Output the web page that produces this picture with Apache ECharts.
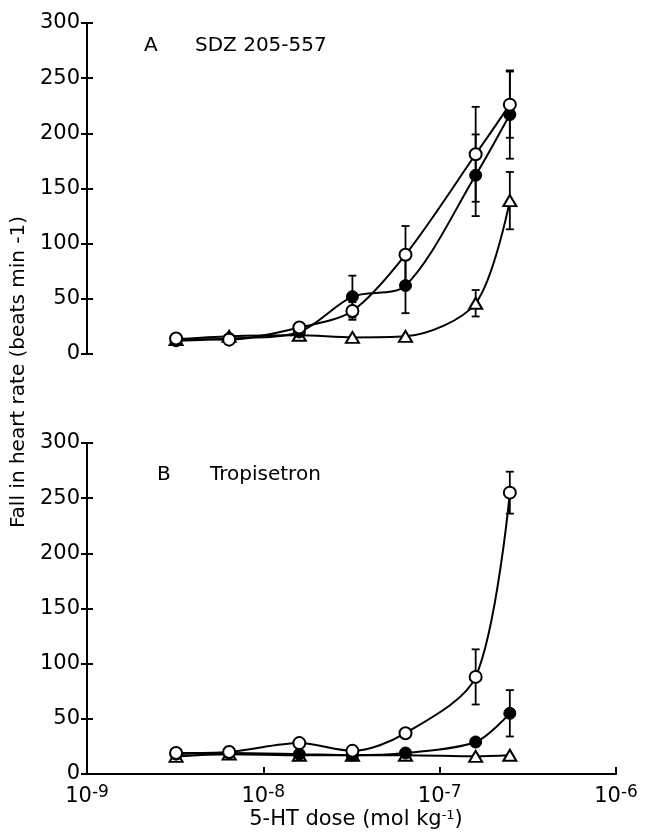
<!DOCTYPE html>
<html><head><meta charset="utf-8">
<script src="https://cdn.jsdelivr.net/npm/echarts@6/dist/echarts.min.js"></script>
<style>html,body{margin:0;padding:0;background:#fff}#c{width:645px;height:833px}</style>
</head><body><div id="c"></div>
<script>
const doses = [3.2e-9, 6.4e-9, 1.6e-8, 3.2e-8, 6.4e-8, 1.6e-7, 2.5e-7];
const yTicks = [0, 50, 100, 150, 200, 250, 300];
// Panel A: SDZ 205-557
const openA = [14, 13, 24, 39, 90, 181, 226];
const filledA = [12, 14, 20, 52, 62, 162, 217];
const triA = [13, 16, 17, 15, 16, 46, 139];
const openAErr = [0, 0, 4, 8, 26, 43, 30];
const filledAErr = [0, 0, 0, 19, 25, 37, 40];
const triAErr = [0, 0, 0, 0, 0, 12, 26];
// Panel B: Tropisetron
const openB = [19, 20, 28, 21, 37, 88, 255];
const filledB = [18, 19, 18, 17, 19, 29, 55];
const triB = [16, 18, 17, 17, 17, 16, 17];
const openBErr = [0, 0, 0, 0, 0, 25, 19];
const filledBErr = [0, 0, 0, 0, 0, 0, 21];
const triBErr = [0, 0, 0, 0, 0, 0, 0];

const FONT = 'DejaVu Sans';
const chart = echarts.init(document.getElementById('c'));

function pts(vals){ return doses.map((d,i)=>[d, vals[i]]); }
function errPts(vals, errs){
  const out=[];
  doses.forEach((d,i)=>{ if(errs[i]>0) out.push([d, vals[i]-errs[i], vals[i]+errs[i]]); });
  return out;
}
function lineSeries(vals, g, kind){
  const base = {type:'line', xAxisIndex:g, yAxisIndex:g*2, data:pts(vals), smooth:0.3,
    symbolSize:12, lineStyle:{color:'#000', width:2}, z:3, animation:false};
  if(kind==='open'){ base.symbol='circle'; base.itemStyle={color:'#fff', borderColor:'#000', borderWidth:2}; }
  if(kind==='filled'){ base.symbol='circle'; base.itemStyle={color:'#000', borderColor:'#000', borderWidth:1}; }
  if(kind==='tri'){ base.symbol='triangle'; base.symbolSize=[13,11]; base.itemStyle={color:'#fff', borderColor:'#000', borderWidth:2}; }
  return base;
}
function errSeries(vals, errs, g){
  return {type:'custom', xAxisIndex:g, yAxisIndex:g*2, data:errPts(vals, errs), z:2, animation:false,
    renderItem:function(params, api){
      const lo = api.coord([api.value(0), api.value(1)]);
      const hi = api.coord([api.value(0), api.value(2)]);
      const w = 4;
      const st = {stroke:'#000', lineWidth:1.8};
      return {type:'group', children:[
        {type:'line', shape:{x1:lo[0], y1:lo[1], x2:hi[0], y2:hi[1]}, style:st},
        {type:'line', shape:{x1:lo[0]-w, y1:lo[1], x2:lo[0]+w, y2:lo[1]}, style:st},
        {type:'line', shape:{x1:hi[0]-w, y1:hi[1], x2:hi[0]+w, y2:hi[1]}, style:st}
      ]};
    }};
}
function xAxisDef(g, show){
  return {gridIndex:g, type:'log', logBase:10, min:1e-9, max:1e-6,
    axisLine:{show:show, lineStyle:{color:'#000', width:2}},
    axisTick:{show:show, inside:true, length:7, lineStyle:{color:'#000', width:2}},
    splitLine:{show:false}, minorTick:{show:false},
    axisLabel:{show:show, margin:10, color:'#000',
      formatter:function(v){ const e=Math.round(Math.log10(v)); return '{b|10}{s|'+e+'}'; },
      rich:{b:{fontFamily:FONT, fontSize:21, color:'#000'}, s:{fontFamily:FONT, fontSize:17, color:'#000', verticalAlign:'bottom', padding:[0,0,9,0]}}}
  };
}
function yAxisDefs(g){
  return [
    {gridIndex:g, type:'value', min:0, max:300, interval:50,
      axisLine:{show:true, lineStyle:{color:'#000', width:2}},
      axisTick:{show:true, length:6, lineStyle:{color:'#000', width:2}},
      splitLine:{show:false},
      axisLabel:{color:'#000', fontFamily:FONT, fontSize:21, margin:7}},
    {gridIndex:g, type:'value', min:0, max:300, interval:50, position:'left',
      axisLine:{show:false}, axisTick:{show:true, inside:true, length:6, lineStyle:{color:'#000', width:2}},
      splitLine:{show:false}, axisLabel:{show:false}}
  ];
}

const option = {
  backgroundColor:'#fff',
  animation:false,
  grid:[{left:87, right:29, top:23, height:331}, {left:87, right:29, top:443, height:331}],
  xAxis:[xAxisDef(0,false), xAxisDef(1,true)],
  yAxis:[...yAxisDefs(0), ...yAxisDefs(1)],
  graphic:[
    {type:'text', left:144, top:36, style:{text:'A', font:'20px "DejaVu Sans"', fill:'#000'}},
    {type:'text', left:195, top:36, style:{text:'SDZ 205-557', font:'20px "DejaVu Sans"', fill:'#000'}},
    {type:'text', left:157, top:465, style:{text:'B', font:'20px "DejaVu Sans"', fill:'#000'}},
    {type:'text', left:210, top:465, style:{text:'Tropisetron', font:'20px "DejaVu Sans"', fill:'#000'}},
    {type:'text', x:19, y:372, rotation:Math.PI/2, style:{text:'Fall in heart rate (beats min -1)', font:'20px "DejaVu Sans"', fill:'#000', align:'center', verticalAlign:'middle'}},
    {type:'text', x:356, y:820, style:{text:'{t|5-HT dose (mol kg}{s|-1}{t|)}', align:'center', verticalAlign:'middle',
      rich:{t:{fontFamily:FONT, fontSize:21, fill:'#000', color:'#000'}, s:{fontFamily:FONT, fontSize:13, color:'#000', fill:'#000', verticalAlign:'top', padding:[0,0,9,0]}}}}
  ],
  series:[
    errSeries(openA, openAErr, 0), errSeries(filledA, filledAErr, 0), errSeries(triA, triAErr, 0),
    lineSeries(triA, 0, 'tri'), lineSeries(filledA, 0, 'filled'), lineSeries(openA, 0, 'open'),
    errSeries(openB, openBErr, 1), errSeries(filledB, filledBErr, 1), errSeries(triB, triBErr, 1),
    lineSeries(triB, 1, 'tri'), lineSeries(filledB, 1, 'filled'), lineSeries(openB, 1, 'open')
  ]
};
chart.setOption(option);
</script></body></html>
